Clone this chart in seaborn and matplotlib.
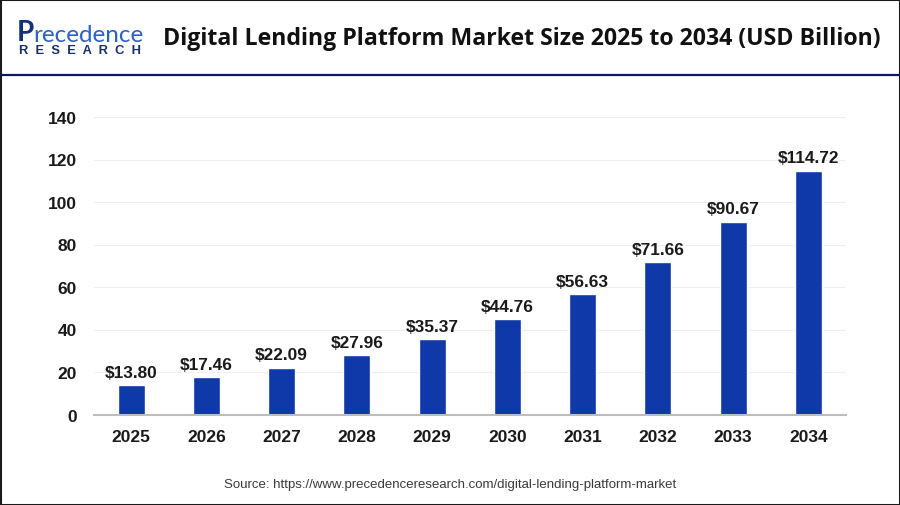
import pandas as pd
import seaborn as sns
import matplotlib
matplotlib.use('Agg')
import matplotlib.pyplot as plt
from matplotlib.lines import Line2D
from matplotlib.patches import Rectangle

# --- Data ---
YEARS = ['2025', '2026', '2027', '2028', '2029', '2030', '2031', '2032', '2033', '2034']
MARKET_SIZE = [13.80, 17.46, 22.09, 27.96, 35.37, 44.76, 56.63, 71.66, 90.67, 114.72]
Y_TICKS = [0, 20, 40, 60, 80, 100, 120, 140]

TITLE = 'Digital Lending Platform Market Size 2025 to 2034 (USD Billion)'
SOURCE = 'Source: https://www.precedenceresearch.com/digital-lending-platform-market'

W, H = 900, 506
BAR_COLOR = '#0F39A8'
TEXT_COLOR = '#1A1A1A'

sns.set_theme(style='white')
plt.rcParams['font.family'] = ['Liberation Sans', 'DejaVu Sans']

df = pd.DataFrame({'year': YEARS, 'size': MARKET_SIZE})

fig = plt.figure(figsize=(W / 100, H / 100), dpi=100)
ax = fig.add_axes([93.5 / W, 1 - 415.5 / H, 752.5 / W, 297.5 / H])

sns.barplot(data=df, x='year', y='size', color=BAR_COLOR, saturation=1, width=0.36, ax=ax)

ax.set_xlim(-0.5, 9.5)
ax.set_ylim(0, 140)
ax.set_yticks(Y_TICKS)
ax.set_xlabel('')
ax.set_ylabel('')
ax.grid(axis='y', color='#EFEFEF', linewidth=0.8)
ax.set_axisbelow(True)
sns.despine(ax=ax, left=True)
ax.spines['bottom'].set_color('#BDBDBD')
ax.spines['bottom'].set_linewidth(1.5)
ax.tick_params(axis='both', length=0, labelsize=12.5, labelcolor=TEXT_COLOR)
ax.tick_params(axis='x', pad=10.5)
ax.tick_params(axis='y', pad=12)
for lab in ax.get_xticklabels() + ax.get_yticklabels():
    lab.set_fontweight('bold')

# Value labels
ax.bar_label(ax.containers[0], labels=[f'${v:.2f}' for v in MARKET_SIZE],
             padding=4, fontsize=12.4, fontweight='bold', color=TEXT_COLOR)

# Header
fig.text(522 / W, 1 - 39 / H, TITLE, ha='center', va='center', fontsize=16.7,
         fontweight='bold', color='#111111', family=['Open Sans', 'DejaVu Sans'])
fig.add_artist(Line2D([0, 1], [1 - 75.5 / H] * 2, color='#14145A', linewidth=1.6))

# Logo as text
fig.text(17 / W, 1 - 33 / H, 'P', ha='left', va='center', fontsize=20, fontweight='bold',
         color='#12307F', family=['Lato', 'DejaVu Sans'])
fig.text(33 / W, 1 - 35 / H, 'recedence', ha='left', va='center', fontsize=17.5,
         color='#2A62C4', family=['Lato', 'DejaVu Sans'])
fig.text(19 / W, 1 - 51 / H, 'R  E  S  E  A  R  C  H', ha='left', va='center', fontsize=9.3,
         fontweight='bold', color='#17306F')

# Source line
fig.text(450.5 / W, 1 - 485 / H, SOURCE, ha='center', va='center', fontsize=9.5, color='#3A3A3A')

# Outer frame
fig.add_artist(Rectangle((0, 0), 1, 1, transform=fig.transFigure, fill=False,
                         edgecolor='#1A1A1A', linewidth=2.2))

fig.savefig('out.png', dpi=100)
